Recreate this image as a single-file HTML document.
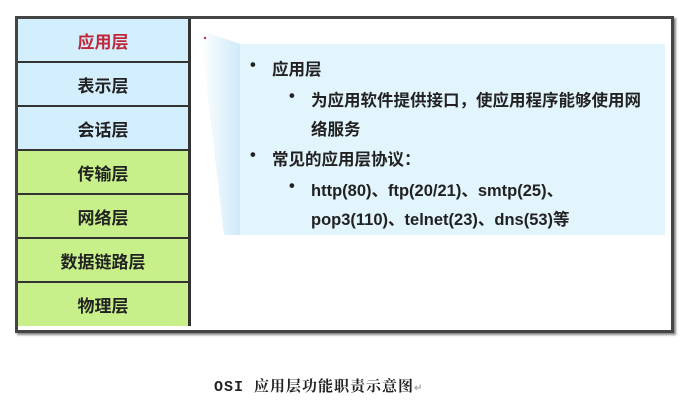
<!DOCTYPE html>
<html><head><meta charset="utf-8"><style>
body{margin:0;width:684px;height:404px;background:#fff;position:relative;overflow:hidden;font-family:"Liberation Sans","Noto Sans CJK SC",sans-serif}
.frame{position:absolute;left:15px;top:16px;width:653px;height:311px;border:3px solid #444;box-shadow:2px 2px 2px #888;background:#fff}
.col{position:absolute;left:18px;top:19px;width:170px;height:307px;border-right:3px solid #333;}
.row{position:absolute;left:0;width:170px;height:42px;border-bottom:2px solid #333;display:flex;align-items:center;justify-content:center;font-weight:bold;font-size:17px;color:#222}
.b{background:#d3eefc}.g{background:#c8f08a}
.t{position:absolute;font-weight:bold;font-size:16.5px;color:#222;white-space:nowrap}
</style></head><body>
<div class="frame"></div>
<div class="col">
<div class="row b" style="top:0;color:#c0283a">应用层</div>
<div class="row b" style="top:44px">表示层</div>
<div class="row b" style="top:88px">会话层</div>
<div class="row g" style="top:132px">传输层</div>
<div class="row g" style="top:176px">网络层</div>
<div class="row g" style="top:220px">数据链路层</div>
<div class="row g" style="top:264px;border-bottom:none;height:43px">物理层</div>
</div>
<svg style="position:absolute;left:0;top:0" width="684" height="404">
<defs><linearGradient id="w" x1="0" x2="1"><stop offset="0" stop-color="#fff"/><stop offset="1" stop-color="#cfeaf9"/></linearGradient></defs>
<polygon points="200,30 240,44 240,235 224,235" fill="url(#w)"/>
<rect x="240" y="44" width="425" height="191" fill="#e2f4fc"/>
<circle cx="205" cy="38" r="1.2" fill="#c03040"/>
</svg>
<div class="t" style="left:250px;top:56px">•</div><div class="t" style="left:272px;top:56px">应用层</div>
<div class="t" style="left:289px;top:87px">•</div><div class="t" style="left:311px;top:87px">为应用软件提供接口，使应用程序能够使用网</div>
<div class="t" style="left:311px;top:116px">络服务</div>
<div class="t" style="left:250px;top:146px">•</div><div class="t" style="left:272px;top:146px">常见的应用层协议：</div>
<div class="t" style="left:289px;top:177px">•</div><div class="t" style="left:311px;top:177px">http(80)、ftp(20/21)、smtp(25)、</div>
<div class="t" style="left:311px;top:206px">pop3(110)、telnet(23)、dns(53)等</div>
<div style="position:absolute;left:214px;top:375px;font-family:'Liberation Mono','Noto Serif CJK SC',serif;font-size:15px;font-weight:bold;color:#222;letter-spacing:1px">OSI 应用层功能职责示意图<span style="color:#aaa;font-size:10px">↵</span></div>
</body></html>
